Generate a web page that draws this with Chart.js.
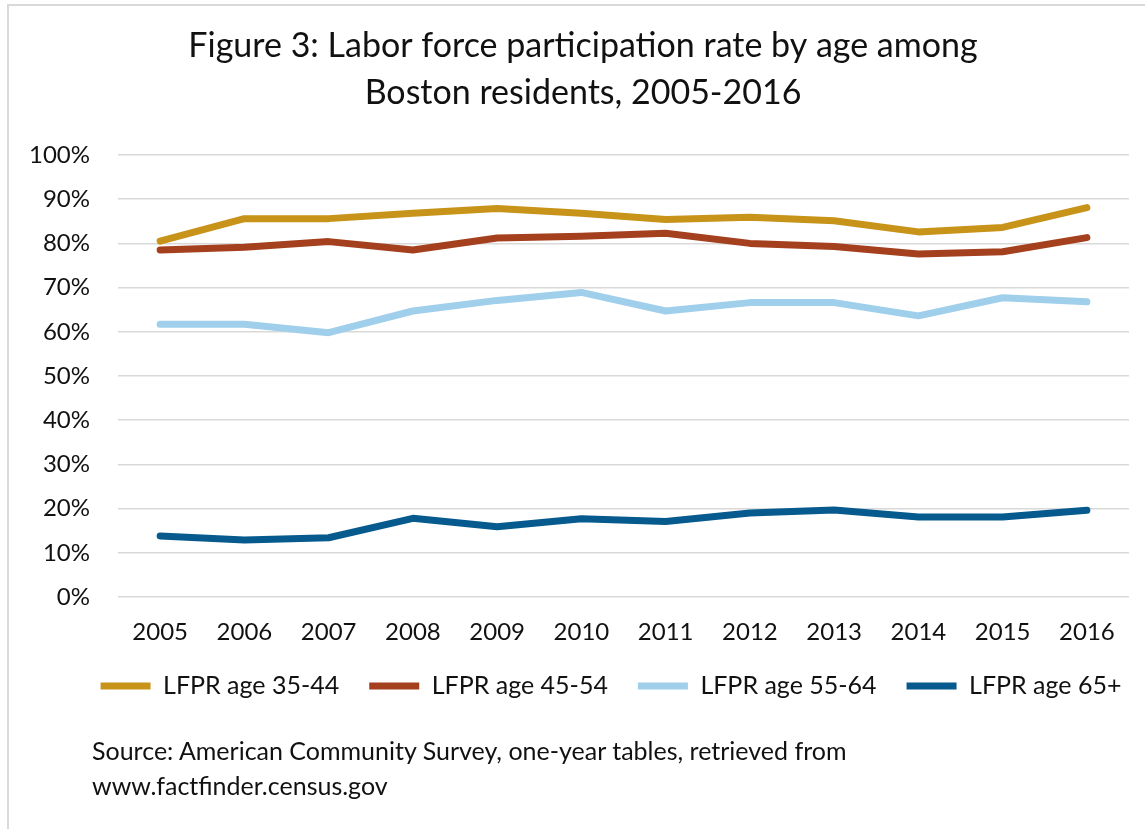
<!DOCTYPE html>
<html>
<head>
<meta charset="utf-8">
<title>Labor force participation rate by age</title>
<script src="https://cdn.jsdelivr.net/npm/chart.js@4/dist/chart.umd.min.js"></script>
<style>
    body { margin: 0; background: #fff; }
    .wrap { position: relative; width: 1145px; height: 829px; overflow: hidden; }
    .frame { position: absolute; left: 7px; top: 4px; width: 1200px; height: 900px; border: 2px solid #d9d9d9; box-sizing: border-box; }
    #charts { position: absolute; left: 0; top: 0; }
    .source { position: absolute; left: 92px; top: 733px; font-family: Lato, sans-serif; font-size: 25px; line-height: 35px; color: #111; }
</style>
</head>
<body>
<div class="wrap">
    <div class="frame"></div>
    <canvas id="charts" width="1145" height="829"></canvas>
    <div class="source">Source: American Community Survey, one-year tables, retrieved from<br>www.factfinder.census.gov</div>
</div>
<script>
// years on the x axis
const years = ['2005', '2006', '2007', '2008', '2009', '2010', '2011', '2012', '2013', '2014', '2015', '2016'];

// participation rate (%) per age group
const age3544 = [80.5, 85.6, 85.6, 86.8, 87.9, 86.8, 85.4, 85.9, 85.1, 82.6, 83.6, 88.1];
const age4554 = [78.5, 79.1, 80.4, 78.5, 81.2, 81.6, 82.3, 80.0, 79.3, 77.6, 78.1, 81.3];
const age5564 = [61.7, 61.7, 59.8, 64.7, 67.1, 68.9, 64.7, 66.6, 66.6, 63.6, 67.7, 66.8];
const age65up = [13.8, 12.9, 13.4, 17.8, 15.9, 17.7, 17.1, 19.0, 19.7, 18.1, 18.1, 19.6];

const seriesNames = ['LFPR age 35-44', 'LFPR age 45-54', 'LFPR age 55-64', 'LFPR age 65+'];
const seriesColors = ['#C89319', '#A5401F', '#A0CFEB', '#065A8D'];

const titleLines = ['Figure 3: Labor force participation rate by age among', 'Boston residents, 2005-2016'];
const yTicks = [0, 10, 20, 30, 40, 50, 60, 70, 80, 90, 100];

const FONT = 'Lato, sans-serif';

// the original title and legend are not centred on the canvas, move them a bit
const boxShift = {
    id: 'boxShift',
    afterLayout(chart) {
        if (chart.titleBlock) {
            chart.titleBlock.left += 18.5;
            chart.titleBlock.right += 18.5;
        }
        if (chart.legend) {
            chart.legend.left += 46.5;
            chart.legend.right += 46.5;
            chart.legend.top -= 5.5;
            chart.legend.bottom -= 5.5;
        }
    }
};

function makeDataset(values, i) {
    return {
        label: seriesNames[i],
        data: values,
        borderColor: seriesColors[i],
        backgroundColor: seriesColors[i],
        borderWidth: 7,
        borderCapStyle: 'round',
        borderJoinStyle: 'round',
        pointRadius: 0,
        pointHoverRadius: 0,
        tension: 0,
        fill: false
    };
}

function renderChart() {
    const ctx = document.getElementById('charts').getContext('2d');
    new Chart(ctx, {
        type: 'line',
        data: {
            labels: years,
            datasets: [age3544, age4554, age5564, age65up].map(makeDataset)
        },
        options: {
            responsive: false,
            animation: false,
            layout: { padding: { left: 0, right: 16, top: 10, bottom: 115 } },
            plugins: {
                title: {
                    display: true,
                    text: titleLines,
                    color: '#111',
                    font: { family: FONT, size: 34, weight: 'normal', lineHeight: 1.382 },
                    padding: { top: 13, bottom: 38 }
                },
                legend: {
                    position: 'bottom',
                    labels: {
                        usePointStyle: true,
                        pointStyle: 'line',
                        pointStyleWidth: 50,
                        padding: 30,
                        color: '#111',
                        font: { family: FONT, size: 25 }
                    }
                },
                tooltip: { enabled: false }
            },
            scales: {
                x: {
                    offset: true,
                    grid: { display: false },
                    border: { display: false },
                    ticks: { color: '#111', padding: 13, font: { family: FONT, size: 24 } },
                    afterFit(scale) { scale.height = 52; }
                },
                y: {
                    min: 0,
                    max: 100,
                    afterBuildTicks(scale) { scale.ticks = yTicks.map(v => ({ value: v })); },
                    grid: { color: '#d9d9d9', lineWidth: 1.5, drawTicks: false },
                    border: { display: false },
                    ticks: {
                        color: '#111',
                        padding: 28,
                        font: { family: FONT, size: 24 },
                        callback: v => v + '%'
                    },
                    afterFit(scale) { scale.width = 118; }
                }
            }
        },
        plugins: [boxShift]
    });
}

window.onload = () => {
    renderChart();
};
</script>
</body>
</html>
